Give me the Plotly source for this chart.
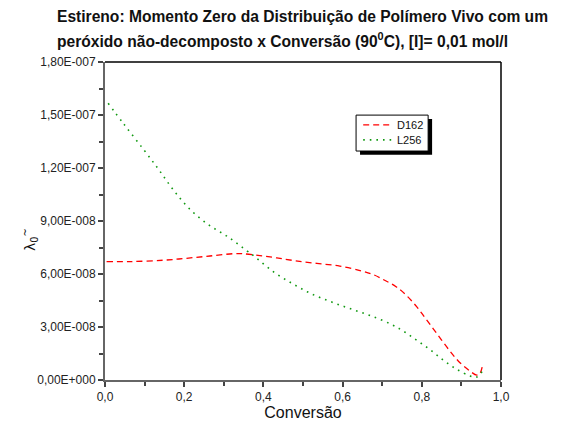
"""
Estireno: momento zero da distribuicao de polimero vivo vs conversao.
"""
import plotly.graph_objects as go

# D162 (red dashed)
d162_x = [0.004, 0.063, 0.147, 0.206, 0.265, 0.324, 0.345, 0.391, 0.434, 0.480, 0.535, 0.593,
          0.648, 0.678, 0.705, 0.735, 0.762, 0.787, 0.808, 0.829, 0.850, 0.871, 0.892, 0.918,
          0.939, 0.947, 0.954]
d162_y = [6.70e-8, 6.70e-8, 6.78e-8, 6.89e-8, 7.02e-8, 7.15e-8, 7.15e-8, 7.04e-8, 6.91e-8, 6.75e-8,
          6.60e-8, 6.45e-8, 6.17e-8, 5.96e-8, 5.66e-8, 5.28e-8, 4.77e-8, 4.15e-8, 3.53e-8, 2.90e-8,
          2.26e-8, 1.64e-8, 1.08e-8, 0.57e-8, 0.28e-8, 0.38e-8, 0.91e-8]

# L256 (green dotted)
l256_x = [0.008, 0.046, 0.097, 0.135, 0.171, 0.212, 0.260, 0.310, 0.359, 0.376, 0.425, 0.476,
          0.524, 0.574, 0.624, 0.673, 0.723, 0.756, 0.789, 0.822, 0.854, 0.888, 0.922, 0.937,
          0.950, 0.955]
l256_y = [1.566e-7, 1.453e-7, 1.306e-7, 1.193e-7, 1.081e-7, 0.972e-7, 0.881e-7, 0.811e-7, 0.730e-7,
          0.702e-7, 0.613e-7, 0.542e-7, 0.485e-7, 0.440e-7, 0.400e-7, 0.362e-7, 0.315e-7, 0.273e-7,
          0.222e-7, 0.170e-7, 0.113e-7, 0.061e-7, 0.023e-7, 0.015e-7, 0.040e-7, 0.070e-7]

x_ticks = [0.0, 0.2, 0.4, 0.6, 0.8, 1.0]
x_labels = ["0,0", "0,2", "0,4", "0,6", "0,8", "1,0"]
y_ticks = [0, 3e-8, 6e-8, 9e-8, 1.2e-7, 1.5e-7, 1.8e-7]
y_labels = ["0,00E+000", "3,00E-008", "6,00E-008", "9,00E-008", "1,20E-007", "1,50E-007", "1,80E-007"]

FONT = 'Liberation Sans, Arial'
RED_LINE = {'color': '#ff0000', 'width': 1.3, 'dash': '6px,4px'}
GREEN_LINE = {'color': '#119911', 'width': 1.6, 'dash': '1.6px,5px'}

# the page body adds an 8px offset, so the figure is laid out 8px smaller
PLOT_W, PLOT_H = 396, 318
M_L, M_T = 97, 54

fig = go.Figure()
fig.add_trace(go.Scatter(x=d162_x, y=d162_y, mode="lines", name="D162",
                         line={**RED_LINE, 'shape': 'spline'}, showlegend=False))
fig.add_trace(go.Scatter(x=l256_x, y=l256_y, mode="lines", name="L256",
                         line={**GREEN_LINE, 'shape': 'spline'}, showlegend=False))

axis_common = dict(
    showline=True, linecolor='#666666', linewidth=2, mirror=False, automargin=False,
    ticks='outside', ticklen=5, tickwidth=1.5, tickcolor='#444444',
    showgrid=False, zeroline=False,
    tickfont={'family': FONT, 'size': 12, 'color': '#222222'},
    minor=dict(ticks='outside', ticklen=4, tickwidth=1.5, tickcolor='#444444'),
)

fig.update_xaxes(
    range=[0, 1], tickvals=x_ticks, ticktext=x_labels, minor_dtick=0.1,
    title={'text': 'Conversão', 'font': {'family': FONT, 'size': 16, 'color': '#111111'}, 'standoff': 1},
    **axis_common
)
fig.update_yaxes(
    range=[0, 1.8e-7], tickvals=y_ticks, ticktext=y_labels, minor_dtick=1.5e-8,
    **axis_common
)

# y-axis label, placed a bit below the middle as in the original
fig.add_annotation(text='λ<sub>0</sub><sup>~</sup>', xref='paper', yref='paper',
                   x=-75 / PLOT_W, y=(380 - 240) / PLOT_H, textangle=-90,
                   xanchor='center', yanchor='middle', showarrow=False,
                   font={'family': 'DejaVu Sans', 'size': 14, 'color': '#111111'})

# top and right frame lines
fig.add_shape(type='line', xref='paper', yref='paper', x0=0, x1=1, y0=1, y1=1,
              line={'color': 'black', 'width': 1.5})
fig.add_shape(type='line', xref='paper', yref='paper', x0=1, x1=1, y0=0, y1=1,
              line={'color': 'black', 'width': 1.5})

# legend box with shadow
fig.add_shape(type='rect', xref='paper', yref='paper', x0=0.644, x1=0.826, y0=0.708, y1=0.821,
              fillcolor='black', line={'width': 0}, layer='above')
fig.add_shape(type='rect', xref='paper', yref='paper', x0=0.634, x1=0.816, y0=0.720, y1=0.833,
              fillcolor='white', line={'color': 'black', 'width': 1}, layer='above')
legend_names = ['D162', 'L256']
legend_lines = [RED_LINE, GREEN_LINE]
for i, (name, ln) in enumerate(zip(legend_names, legend_lines)):
    yy = 0.802 - i * 0.047
    fig.add_shape(type='line', xref='paper', yref='paper', x0=0.652, x1=0.727, y0=yy, y1=yy,
                  line=ln, layer='above')
    fig.add_annotation(text=name, xref='paper', yref='paper', x=0.732, y=yy, xanchor='left',
                       yanchor='middle', showarrow=False,
                       font={'family': FONT, 'size': 11, 'color': '#111111'})

# two-line title
title_lines = ['Estireno: Momento Zero da Distribuição de Polímero Vivo com um',
               'peróxido não-decomposto x Conversão (90<sup>0</sup>C), [I]= 0,01 mol/l']
for i, t in enumerate(title_lines):
    fig.add_annotation(text=t, xref='paper', yref='paper', x=-50 / PLOT_W, y=1 + (45 - i * 23) / PLOT_H,
                       xanchor='left', yanchor='middle', showarrow=False,
                       font={'family': FONT, 'size': 15.6, 'color': '#111111', 'weight': 'bold'})

fig.update_layout(
    width=560, height=420,
    margin={'l': M_L, 'r': 560 - M_L - PLOT_W, 't': M_T, 'b': 420 - M_T - PLOT_H},
    paper_bgcolor='white', plot_bgcolor='white',
    showlegend=False,
)

fig.write_html("out.html")
